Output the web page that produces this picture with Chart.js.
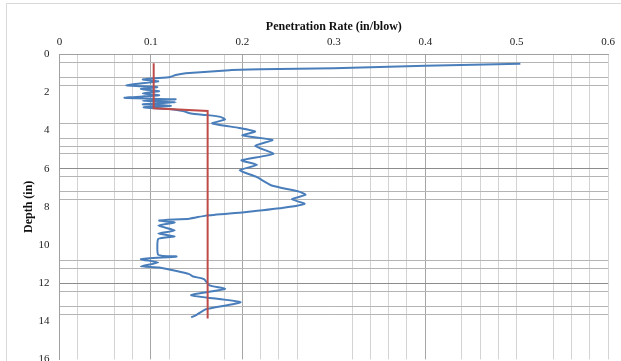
<!DOCTYPE html>
<html>
<head>
<meta charset="utf-8">
<script src="https://cdn.jsdelivr.net/npm/chart.js@4/dist/chart.umd.min.js"></script>
<style>
  html,body{margin:0;padding:0;background:#fff;}
  #wrap{position:relative;width:621px;height:361px;overflow:hidden;}
  #frame{position:absolute;left:6px;top:3px;width:700px;height:400px;border-left:1px solid #d9d9d9;border-top:1px solid #d9d9d9;}
  canvas{position:absolute;left:0;top:0;}
</style>
</head>
<body>
<div id="wrap">
  <div id="frame"></div>
  <!-- taller than the window on purpose: the plot runs to the bottom edge and the 16 label is cut off -->
  <canvas id="chart" width="621" height="376"></canvas>
</div>
<script>
// Penetration rate (in/blow) vs depth (in)
const rateBlue = [0.504,0.40,0.30,0.22,0.186,0.138,0.127,0.121,0.104,0.091,
  0.108,0.073,0.107,0.089,0.109,0.091,0.109,0.071,0.127,0.091,0.127,0.091,0.122,0.092,0.118,0.135,
  0.144,0.162,0.176,0.181,0.167,0.196,0.214,0.200,0.233,0.214,0.234,0.199,0.216,0.197,0.215,0.232,
  0.262,0.269,0.254,0.268,0.245,0.202,0.160,0.142,0.109,0.126,0.108,0.126,0.108,0.126,0.108,0.108,
  0.128,0.089,0.108,0.089,0.109,0.128,0.142,0.146,0.158,0.164,0.181,0.144,0.198,0.160,0.150,0.144];
const depthBlue = [0.49,0.60,0.73,0.79,0.83,1.00,1.09,1.19,1.26,1.32,
  1.42,1.62,1.72,1.82,1.93,2.05,2.15,2.28,2.36,2.44,2.52,2.62,2.70,2.78,2.86,2.98,
  3.11,3.19,3.28,3.42,3.62,3.86,4.05,4.25,4.49,4.80,5.22,5.56,5.80,6.08,6.42,6.88,
  7.20,7.37,7.60,7.84,8.05,8.28,8.46,8.62,8.72,8.82,8.98,9.24,9.40,9.55,9.68,10.52,
  10.60,10.74,10.92,11.12,11.18,11.36,11.53,11.65,11.79,12.12,12.30,12.63,13.00,13.37,13.66,13.80];
const rateRed = [0.103,0.103,0.162,0.162];
const depthRed = [0.47,2.83,2.97,13.85];

const xTickValues = [0,0.02,0.04,0.06,0.08,0.1,0.12,0.14,0.16,0.18,0.2,0.22,0.24,0.26,0.28,0.3,
  0.32,0.34,0.36,0.38,0.4,0.42,0.44,0.46,0.48,0.5,0.52,0.54,0.56,0.58,0.6];
const xLabelValues = [0,0.1,0.2,0.3,0.4,0.5,0.6];
const xHiddenLines = [0.04,0.14,0.16,0.28,0.3,0.42,0.52];
const xDarkLines = [0.1,0.2,0.4];
const depthLabels = [0,2,4,6,8,10,12,14,16];
const gridDepths = [0.42,1.21,1.62,3.63,4.44,4.81,5.21,6,6.42,7.19,7.62,10.81,11.21,12,12.42,13.21,13.63];
const yDarkLines = [6,12];

const key = v => Math.round(v*100);
const has = (arr, v) => arr.some(a => key(a) === key(v));
const pts = (xs, ys) => xs.map((x,i) => ({x, y: ys[i]}));
const serif = '"Liberation Serif", "Times New Roman", serif';

new Chart(document.getElementById('chart'), {
  type: 'scatter',
  data: {
    datasets: [
      { data: pts(rateRed, depthRed), showLine:true, borderColor:'#be4b48', borderWidth:2, pointRadius:0, tension:0 },
      { data: pts(rateBlue, depthBlue), showLine:true, borderColor:'#4a7ebb', borderWidth:2, pointRadius:0, tension:0.15 }
    ]
  },
  options: {
    responsive:false, animation:false,
    layout:{ padding:{ left:8, right:10, top:4, bottom:0 } },
    plugins:{ legend:{display:false}, tooltip:{enabled:false} },
    scales:{
      x:{
        type:'linear', position:'top', min:0, max:0.6,
        afterBuildTicks: s => { s.ticks = xTickValues.map(v => ({value:v})); },
        afterFit: s => { s.height = 50.3; },
        ticks:{ autoSkip:false, maxRotation:0, padding:6, color:'#222',
          font:{ family:serif, size:11 },
          callback: v => has(xLabelValues, v) ? String(+v.toFixed(1)) : '' },
        grid:{ drawTicks:false, lineWidth:1,
          color: c => has(xHiddenLines, c.tick.value) ? 'rgba(0,0,0,0)' : (has(xDarkLines, c.tick.value) ? '#a6a6a6' : '#d4d4d4') },
        border:{ display:true, color:'#a0a0a0' },
        title:{ display:true, text:'Penetration Rate (in/blow)', color:'#111',
          font:{ family:serif, size:12, weight:'bold' }, padding:{ top:16, bottom:0 } }
      },
      y:{
        type:'linear', reverse:true, min:0, max:16,
        afterBuildTicks: s => { s.ticks = depthLabels.concat(gridDepths).sort((a,b)=>a-b)
          .filter((v,i,a)=>i===0 || key(v)!==key(a[i-1])).map(v => ({value:v})); },
        afterFit: s => { s.width = 51.5; },
        ticks:{ autoSkip:false, padding:10, color:'#222',
          font:{ family:serif, size:11 },
          callback: v => has(depthLabels, v) ? String(v) : '' },
        grid:{ drawTicks:false, lineWidth:1,
          color: c => !has(gridDepths, c.tick.value) ? 'rgba(0,0,0,0)' : (has(yDarkLines, c.tick.value) ? '#8c8c8c' : '#b4b4b4') },
        border:{ display:true, color:'#a0a0a0' },
        title:{ display:true, text:'Depth (in)', color:'#111',
          font:{ family:serif, size:12, weight:'bold' }, padding:{ top:14, bottom:0 } }
      }
    }
  }
});
</script>
</body>
</html>
